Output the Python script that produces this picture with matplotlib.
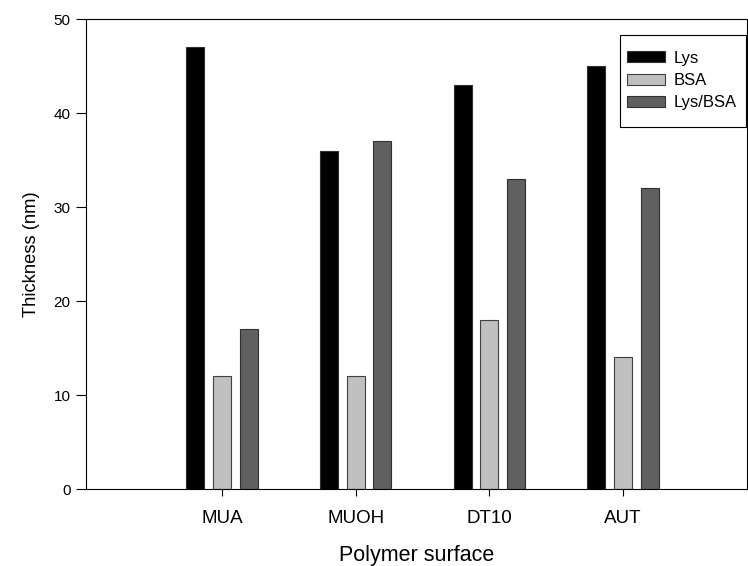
import numpy as np
import matplotlib.pyplot as plt
from matplotlib.patches import Rectangle

surfaces = ['MUA', 'MUOH', 'DT10', 'AUT']
lys = [47, 36, 43, 45]
bsa = [12, 12, 18, 14]
lys_bsa = [17, 37, 33, 32]

plt.rcParams['font.family'] = ['Liberation Sans', 'DejaVu Sans']

W, H = 748, 566
fig = plt.figure(figsize=(W / 100, H / 100), dpi=100)
ax = fig.add_axes([0.115, 0.136, 0.884, 0.830])

x = np.arange(1, len(surfaces) + 1)
w = 0.135
step = 0.2
ax.bar(x - step, lys, w, color='black', edgecolor='#303030', linewidth=0.8, label='Lys')
ax.bar(x, bsa, w, color='#c0c0c0', edgecolor='#404040', linewidth=0.8, label='BSA')
ax.bar(x + step, lys_bsa, w, color='#606060', edgecolor='#303030', linewidth=0.8, label='Lys/BSA')

ax.set_xlim(1 - 1.017, 4 + 0.93)
ax.set_ylim(0, 50)
ax.set_xticks(x)
ax.set_xticklabels(surfaces)
ax.set_yticks(np.arange(0, 51, 10))
ax.tick_params(axis='y', direction='out', length=7, width=0.8, labelsize=11, pad=4)
ax.tick_params(axis='x', direction='out', length=5, width=0.8, labelsize=13.5, pad=10)
for s in ax.spines.values():
    s.set_linewidth(0.8)

ax.set_xlabel('Polymer surface', fontsize=15.5, labelpad=13)
ax.set_ylabel('Thickness (nm)', fontsize=13.2, labelpad=10)

# legend entries without frame, box drawn separately (wider padding on top/bottom)
leg = ax.legend(loc='center left', bbox_to_anchor=(627 / W, 1 - 80.5 / H),
                bbox_transform=fig.transFigure, borderaxespad=0, borderpad=0,
                frameon=False, fontsize=12,
                handlelength=2.3, handleheight=0.65, handletextpad=0.5,
                labelspacing=0.45)
leg.set_zorder(6)
box = Rectangle((620 / W, 1 - 127 / H), 126 / W, 92 / H,
                transform=fig.transFigure, facecolor='white',
                edgecolor='black', linewidth=0.8, zorder=5, clip_on=False)
ax.add_patch(box)

fig.savefig('out.png', dpi=100)
